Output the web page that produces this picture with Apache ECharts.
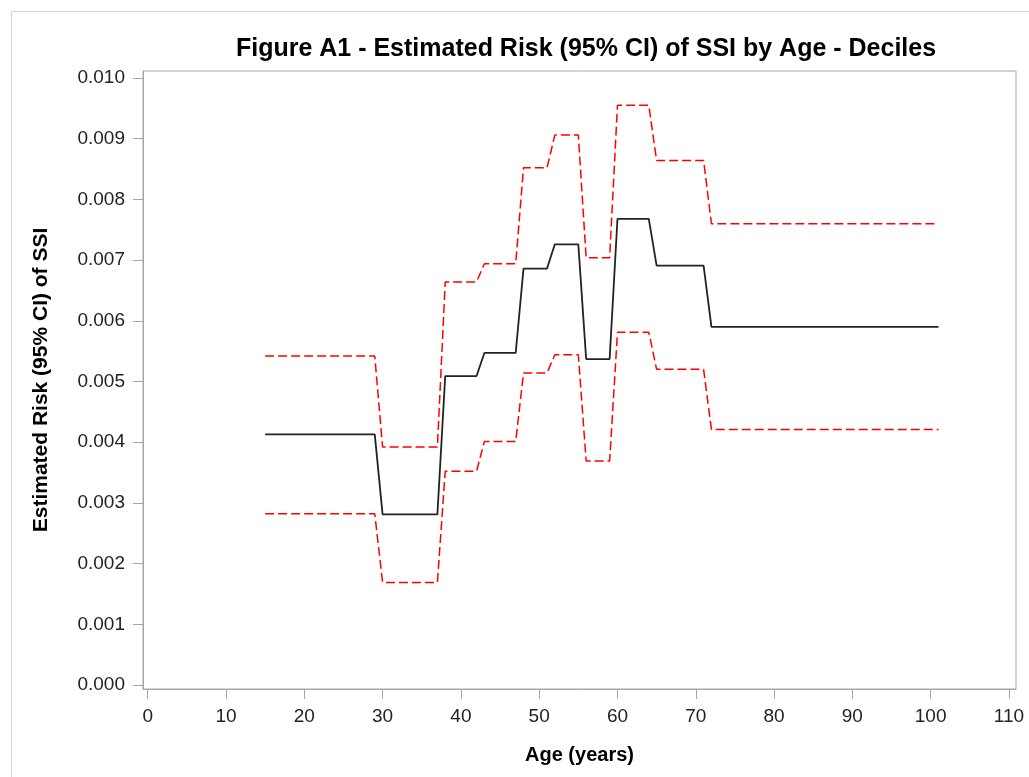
<!DOCTYPE html>
<html>
<head>
<meta charset="utf-8">
<script src="https://cdn.jsdelivr.net/npm/echarts@6/dist/echarts.min.js"></script>
<style>html,body{margin:0;padding:0;background:#fff;}#c{width:1029px;height:777px;}</style>
</head>
<body>
<div id="c"></div>
<script>
// Ages at step corners (years)
const ages = [15,29,30,37,38,42,43,47,48,51,52,55,56,59,60,64,65,71,72,101];
// Estimated risk
const estimate = [0.00413,0.00413,0.00281,0.00281,0.00509,0.00509,0.00547,0.00547,0.00686,0.00686,0.00726,0.00726,0.00537,0.00537,0.00768,0.00768,0.00691,0.00691,0.00590,0.00590];
// Upper 95% CI
const upperCI = [0.00542,0.00542,0.00392,0.00392,0.00664,0.00664,0.00694,0.00694,0.00852,0.00852,0.00906,0.00906,0.00704,0.00704,0.00955,0.00955,0.00864,0.00864,0.00760,0.00760];
// Lower 95% CI
const lowerCI = [0.00282,0.00282,0.00169,0.00169,0.00352,0.00352,0.00401,0.00401,0.00514,0.00514,0.00544,0.00544,0.00369,0.00369,0.00581,0.00581,0.00520,0.00520,0.00421,0.00421];
// Tick labels
const xTicks = [0,10,20,30,40,50,60,70,80,90,100,110];
const yTicks = [0,0.001,0.002,0.003,0.004,0.005,0.006,0.007,0.008,0.009,0.010];

const pair = vals => ages.map((a, i) => [a, vals[i]]);
const axisGray = '#a3a7ab';
const font = 'Liberation Sans, Arial, sans-serif';

const chart = echarts.init(document.getElementById('c'), null, {renderer: 'canvas'});
chart.setOption({
  backgroundColor: '#fff',
  animation: false,
  graphic: [{
    type: 'rect', shape: {x: 11.5, y: 11.5, width: 1040, height: 800},
    style: {fill: null, stroke: '#d4d4d4', lineWidth: 1}, silent: true
  }],
  title: {
    text: 'Figure A1 - Estimated Risk (95% CI) of SSI by Age - Deciles',
    left: 581, textAlign: 'center', top: 32,
    textStyle: {fontFamily: font, fontSize: 25, fontWeight: 'bold', color: '#000'}
  },
  grid: {left: 143, top: 71, width: 873, height: 618, show: true, borderColor: axisGray, borderWidth: 1},
  xAxis: {
    type: 'value', min: -0.6, max: 110.9,
    name: 'Age (years)', nameLocation: 'middle', nameGap: 56,
    nameTextStyle: {fontFamily: font, fontSize: 20, fontWeight: 'bold', color: '#000'},
    axisLine: {show: true, onZero: false, lineStyle: {color: axisGray}},
    axisTick: {show: true, length: 10, customValues: xTicks, lineStyle: {color: axisGray}},
    axisLabel: {customValues: xTicks, margin: 18, fontFamily: font, fontSize: 19, color: '#222'},
    splitLine: {show: false}
  },
  yAxis: {
    type: 'value', min: -0.000066, max: 0.0101153,
    name: 'Estimated Risk (95% CI) of SSI', nameLocation: 'middle', nameGap: 91,
    nameTextStyle: {fontFamily: font, fontSize: 21, fontWeight: 'bold', color: '#000'},
    axisLine: {show: true, onZero: false, lineStyle: {color: axisGray}},
    axisTick: {show: true, length: 10, customValues: yTicks, lineStyle: {color: axisGray}},
    axisLabel: {customValues: yTicks, margin: 18, fontFamily: font, fontSize: 19, color: '#222',
      formatter: v => v.toFixed(3)},
    splitLine: {show: false}
  },
  series: [
    {type: 'line', data: pair(upperCI), symbol: 'none', lineStyle: {color: '#ff0000', width: 1.5, type: [9, 4]}},
    {type: 'line', data: pair(lowerCI), symbol: 'none', lineStyle: {color: '#ff0000', width: 1.5, type: [9, 4]}},
    {type: 'line', data: pair(estimate), symbol: 'none', lineStyle: {color: '#222', width: 1.8}}
  ]
});
</script>
</body>
</html>
